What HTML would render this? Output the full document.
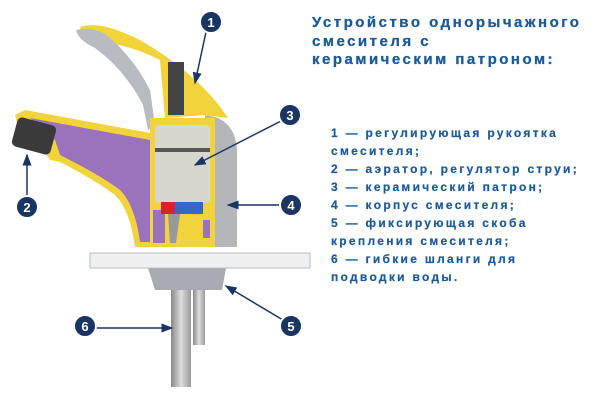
<!DOCTYPE html>
<html><head><meta charset="utf-8"><style>
body{margin:0;width:600px;height:400px;background:#fff;overflow:hidden;position:relative;font-family:"Liberation Sans",sans-serif;}
.t{position:absolute;left:312px;top:14px;color:#1b5a98;font-weight:bold;font-size:15px;letter-spacing:2.5px;line-height:18.5px;-webkit-text-stroke:0.3px #1b5a98;}
.l{position:absolute;left:331px;top:124px;color:#1b5a98;font-weight:bold;font-size:12px;letter-spacing:2.3px;line-height:18px;-webkit-text-stroke:0.2px #1b5a98;}
</style></head><body>
<svg width="600" height="400" style="position:absolute;left:0;top:0">
<defs>
<linearGradient id="g" x1="0" x2="1"><stop offset="0" stop-color="#888"/><stop offset=".5" stop-color="#ddd"/><stop offset="1" stop-color="#999"/></linearGradient>
<marker id="a" markerWidth="8" markerHeight="8" refX="7" refY="4" orient="auto"><path d="M0,1 L8,4 L0,7z" fill="#1a3563"/></marker>
</defs>
<rect x="193" y="280" width="12" height="65" fill="url(#g)"/>
<rect x="171" y="275" width="20" height="112" fill="url(#g)"/>
<path d="M148,268 L226,268 L222,290 L155,290z" fill="#a7aab0"/>
<rect x="90" y="253" width="220" height="15" fill="#eef0f2" stroke="#bbb"/>
<path d="M205,115 Q235,118 237,150 L237,247 L205,247z" fill="#b4b6b9"/>
<path d="M80,27 Q100,20 140,40 Q200,75 228,118 L205,115 L165,118 L160,60 Q120,40 85,42z" fill="#f1d43b"/>
<path d="M76,30 Q95,25 110,38 Q135,60 150,90 L155,125 L148,130 L143,105 Q125,70 95,48 Q78,40 76,30z" fill="#b8bcc0"/>
<rect x="168" y="62" width="16" height="53" fill="#444"/>
<!-- spout -->
<path d="M15,115 L25,110 L150,133 L155,247 L135,247 Q130,210 115,195 Q95,180 60,162 L50,160 L45,152 L22,140z" fill="#f1d43b"/>
<path d="M30,118 L150,140 L155,242 L140,242 Q135,205 120,190 Q100,175 60,155 L55,140z" fill="#9b73bd"/>
<path d="M150,118 L215,118 L215,247 L150,247z" fill="#f1d43b"/>
<path d="M153,210 L165,210 L165,243 L153,243z" fill="#9b73bd"/>
<rect x="203" y="220" width="7" height="18" fill="#9b73bd"/>
<rect x="14" y="121" width="40" height="30" rx="5" fill="#3a3a3a" transform="rotate(15 34 136)"/>
<rect x="155" y="125" width="55" height="78" rx="4" fill="#d7d7d0"/>
<rect x="155" y="148" width="55" height="4" fill="#555"/>
<rect x="161" y="202" width="14" height="12" fill="#d9222e"/>
<rect x="175" y="202" width="28" height="12" fill="#2c6cc6"/>
<path d="M168,214 L180,214 L176,243 L170,243z" fill="#999"/>
<g stroke="#1a3563" stroke-width="1.5" fill="none" marker-end="url(#a)">
<line x1="206" y1="32" x2="195" y2="83"/>
<line x1="283" y1="120" x2="195" y2="165"/>
<line x1="27" y1="198" x2="27" y2="155"/>
<line x1="279" y1="205" x2="228" y2="205"/>
<line x1="283" y1="320" x2="226" y2="286"/>
<line x1="96" y1="328" x2="172" y2="328"/>
</g>
<g fill="#1a3563" stroke="#fff" stroke-width="2">
<circle cx="211" cy="22" r="11"/><circle cx="290" cy="115" r="11"/><circle cx="27" cy="207" r="11"/>
<circle cx="291" cy="205" r="11"/><circle cx="291" cy="326" r="11"/><circle cx="85" cy="326" r="11"/>
</g>
<g fill="#fff" font-family="Liberation Sans" font-weight="bold" font-size="13" text-anchor="middle">
<text x="211" y="27">1</text><text x="290" y="120">3</text><text x="27" y="212">2</text>
<text x="291" y="210">4</text><text x="291" y="331">5</text><text x="85" y="331">6</text>
</g>
</svg>
<div class="t">Устройство однорычажного<br>смесителя с<br>керамическим патроном:</div>
<div class="l">1 — регулирующая рукоятка<br>смесителя;<br>2 — аэратор, регулятор струи;<br>3 — керамический патрон;<br>4 — корпус смесителя;<br>5 — фиксирующая скоба<br>крепления смесителя;<br>6 — гибкие шланги для<br>подводки воды.</div>
</body></html>
